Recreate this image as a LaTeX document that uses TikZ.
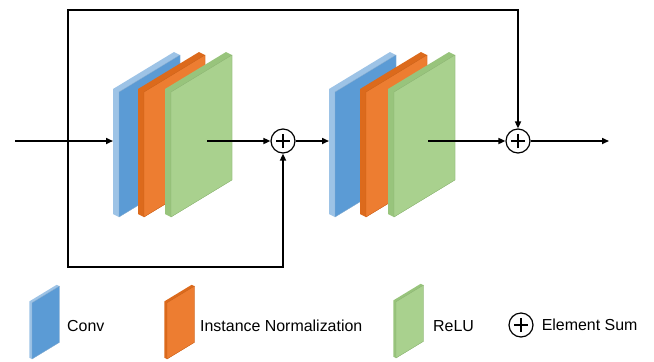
\documentclass[tikz,border=0pt]{standalone}
\usepackage{fontspec}
\setmainfont{Liberation Sans}
\usetikzlibrary{positioning,calc,arrows.meta}
\definecolor{convblue}{HTML}{5B9BD5}
\definecolor{convside}{HTML}{9DC3E6}
\definecolor{normorange}{HTML}{ED7D31}
\definecolor{normside}{HTML}{DC6A1C}
\definecolor{relugreen}{HTML}{A9D18E}
\definecolor{reluside}{HTML}{98C47C}
\def\SlabW{61}
\def\SlabH{125}
\def\SlabR{37}
\def\SlabT{6}
\def\SlabD{3}
% #1 = bottom-left of front face, #2 = scale, #3 = front colour, #4 = side colour
\newcommand{\Slab}[4]{%
	\begin{scope}[shift={#1},scale=#2]
		\fill[#4] (0,0) -- ({-\SlabT},{-\SlabD}) -- ({-\SlabT},{-\SlabD-\SlabH})
			-- ({\SlabW-\SlabT},{-\SlabD-\SlabH-\SlabR}) -- ({\SlabW},{-\SlabH-\SlabR})
			-- ({\SlabW},{-\SlabR}) -- cycle;
		\fill[#3, draw=#4!90!black, line width=0.3bp] (0,0) -- (0,{-\SlabH})
			-- ({\SlabW},{-\SlabH-\SlabR}) -- ({\SlabW},{-\SlabR}) -- cycle;
	\end{scope}
}
\tikzset{
	flow/.style={line width=1.6bp, -{Triangle[length=7bp,width=6bp]}},
	line/.style={line width=1.6bp},
	sumnode/.style={circle, draw, line width=1.2bp, minimum size=24bp, inner sep=0pt,
		path picture={
			\draw[line width=1.8bp] ([xshift=-7bp]path picture bounding box.center) -- ([xshift=7bp]path picture bounding box.center);
			\draw[line width=1.8bp] ([yshift=-7bp]path picture bounding box.center) -- ([yshift=7bp]path picture bounding box.center);
		}},
	lbl/.style={anchor=west, inner sep=0pt, font=\fontsize{16}{19}\selectfont},
}

\begin{document}
\begin{tikzpicture}[x=1bp,y=-1bp]
	\useasboundingbox (0,0) rectangle (654,361);
	% first block
	\Slab{(119,217)}{1}{convblue}{convside}
	\Slab{(144,217)}{1}{normorange}{normside}
	\Slab{(171,217)}{1}{relugreen}{reluside}
	% second block
	\Slab{(335,217)}{1}{convblue}{convside}
	\Slab{(366,217)}{1}{normorange}{normside}
	\Slab{(394,217)}{1}{relugreen}{reluside}
	% 
	\coordinate (in) at (15,141);
	\coordinate (jn) at (68,141);
	\coordinate (lowrail) at (68,267);
	\coordinate (toprail) at (68,10);
	\coordinate (blk1) at (113,141);
	\coordinate (out1) at (207,141);
	\coordinate (blk2) at (329,141);
	\coordinate (out2) at (428,141);
	\coordinate (out) at (609,141);
	\node[sumnode] (sum1) at (283,141) {};
	\node[sumnode] (sum2) at (518,141) {};
	% 
	\draw[flow] (in) -- (blk1);
	\draw[flow] (out1) -- (sum1.west);
	\draw[flow] (sum1.east) -- (blk2);
	\draw[flow] (out2) -- (sum2.west);
	\draw[flow] (sum2.east) -- (out);
	\draw[flow] (jn) -- (lowrail) -| (sum1.south);
	\draw[flow] (jn) -- (toprail) -| (sum2.north);
	% legend
	\Slab{(32,359)}{0.45}{convblue}{convside}
	\Slab{(167,359)}{0.45}{normorange}{normside}
	\Slab{(396,358)}{0.45}{relugreen}{reluside}
	\node[lbl] (lconv) at (67,326) {Conv};
	\node[lbl] (lnorm) at (200,326) {Instance Normalization};
	\node[lbl] (lrelu) at (433,326) {ReLU};
	\node[sumnode] (esum) at (521,325) {};
	\node[lbl, right=8bp of esum] (lsum) {Element Sum};
\end{tikzpicture}
\end{document}
